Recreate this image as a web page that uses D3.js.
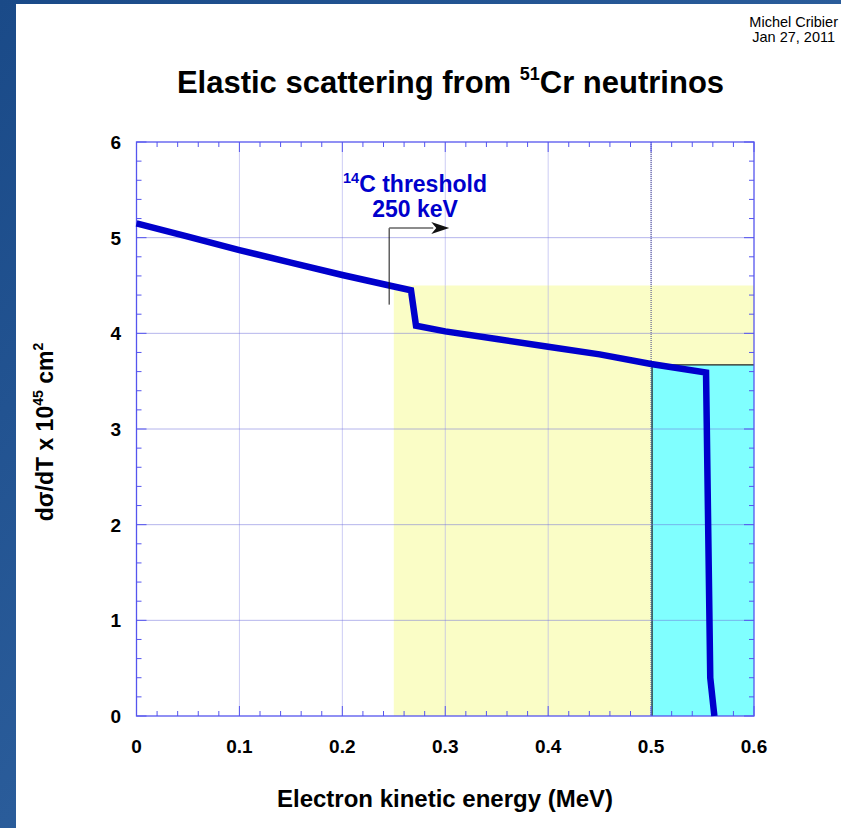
<!DOCTYPE html>
<html>
<head>
<meta charset="utf-8">
<script src="https://cdn.jsdelivr.net/npm/d3@7"></script>
<style>
  body { margin: 0; background: #1d4e8c; }
  text { font-family: "Liberation Sans", Arial, sans-serif; }
</style>
</head>
<body>
<div id="chart"></div>
<script>
// cross section curve (MeV, 10^-45 cm2)
var energy = [0, 0.05, 0.1, 0.15, 0.2, 0.25, 0.2667, 0.2716, 0.3, 0.35, 0.4, 0.45, 0.5, 0.5534, 0.5575, 0.5615];
var sigma = [5.15, 5.01, 4.87, 4.74, 4.61, 4.49, 4.45, 4.08, 4.02, 3.94, 3.86, 3.78, 3.68, 3.59, 0.4, 0];

// shaded regions: [x0, x1, yTop]
var yellowBox = [0.25, 0.6, 4.5];
var cyanBox = [0.5, 0.6, 3.67];

// threshold marker
var thresholdX = 0.2455;
var thresholdY = [4.3, 5.1];
var arrowEnd = 0.3;

var xTicks = [0, 0.1, 0.2, 0.3, 0.4, 0.5, 0.6];
var yTicks = [0, 1, 2, 3, 4, 5, 6];

var width = 841;
var height = 828;

var plotLeft = 136.5;
var plotRight = 754;
var plotTop = 142;
var plotBottom = 716;

var axisColor = '#5555ee';

var svg = d3.select('#chart').append('svg')
    .attr('width', width)
    .attr('height', height);

// slide background
var defs = svg.append('defs');
var grad = defs.append('linearGradient').attr('id', 'bg').attr('x1', 0).attr('y1', 0).attr('x2', 1).attr('y2', 1);
grad.append('stop').attr('offset', '0%').attr('stop-color', '#1a4a88');
grad.append('stop').attr('offset', '50%').attr('stop-color', '#2a5c9a');
grad.append('stop').attr('offset', '100%').attr('stop-color', '#17457f');
svg.append('rect').attr('width', width).attr('height', height).attr('fill', 'url(#bg)');
svg.append('rect')
    .attr('x', 16).attr('y', 4)
    .attr('width', width - 16).attr('height', height - 4)
    .attr('fill', 'white');

var x = d3.scaleLinear().domain([0, 0.6]).range([plotLeft, plotRight]);
var y = d3.scaleLinear().domain([0, 6]).range([plotBottom, plotTop]);

// vertical grid
svg.append('g').selectAll('line')
    .data(xTicks.slice(1, -1))
    .enter().append('line')
    .attr('x1', function (d) { return x(d); })
    .attr('x2', function (d) { return x(d); })
    .attr('y1', plotTop).attr('y2', plotBottom)
    .attr('stroke', '#ccccf4').attr('stroke-width', 1);

// shaded boxes
svg.append('rect')
    .attr('x', x(yellowBox[0])).attr('y', y(yellowBox[2]))
    .attr('width', x(yellowBox[1]) - x(yellowBox[0]))
    .attr('height', y(0) - y(yellowBox[2]))
    .attr('fill', '#fafdc6');

svg.append('rect')
    .attr('x', x(cyanBox[0])).attr('y', y(cyanBox[2]))
    .attr('width', x(cyanBox[1]) - x(cyanBox[0]))
    .attr('height', y(0) - y(cyanBox[2]))
    .attr('fill', '#80ffff');
svg.append('path')
    .attr('d', 'M' + (x(cyanBox[0]) + 1) + ',' + y(0) + 'V' + y(cyanBox[2]) + 'H' + x(cyanBox[1]))
    .attr('fill', 'none').attr('stroke', '#222').attr('stroke-width', 1.2);

// vertical lines over the yellow region
svg.append('g').selectAll('line')
    .data([0.3, 0.4])
    .enter().append('line')
    .attr('x1', function (d) { return x(d); })
    .attr('x2', function (d) { return x(d); })
    .attr('y1', y(yellowBox[2])).attr('y2', plotBottom)
    .attr('stroke', '#ccccdd').attr('stroke-width', 1);
svg.append('line')
    .attr('x1', x(0.5)).attr('x2', x(0.5))
    .attr('y1', plotTop).attr('y2', plotBottom)
    .attr('stroke', '#444488').attr('stroke-width', 1)
    .attr('stroke-dasharray', '1,1');

// horizontal grid
svg.append('g').selectAll('line')
    .data(yTicks.slice(1, -1))
    .enter().append('line')
    .attr('x1', plotLeft).attr('x2', plotRight)
    .attr('y1', function (d) { return y(d); })
    .attr('y2', function (d) { return y(d); })
    .attr('stroke', '#6a6ad8').attr('stroke-width', 1)
    .attr('stroke-dasharray', '1,1');

// frame
svg.append('rect')
    .attr('x', plotLeft).attr('y', plotTop)
    .attr('width', plotRight - plotLeft).attr('height', plotBottom - plotTop)
    .attr('fill', 'none').attr('stroke', axisColor).attr('stroke-width', 1.3);

// ticks on all four sides
var xMinor = d3.range(0, 0.6001, 0.02);
var yMinor = d3.range(0, 6.001, 0.2);

function isMajor(v, step) {
    return Math.abs(v / step - Math.round(v / step)) < 1e-6;
}

var tickGroup = svg.append('g').attr('stroke', axisColor).attr('stroke-width', 1);
xMinor.forEach(function (v) {
    var len = isMajor(v, 0.1) ? 10 : 5;
    tickGroup.append('line').attr('x1', x(v)).attr('x2', x(v)).attr('y1', plotBottom).attr('y2', plotBottom - len);
    tickGroup.append('line').attr('x1', x(v)).attr('x2', x(v)).attr('y1', plotTop).attr('y2', plotTop + len);
});
yMinor.forEach(function (v) {
    var len = isMajor(v, 1) ? 10 : 5;
    tickGroup.append('line').attr('y1', y(v)).attr('y2', y(v)).attr('x1', plotLeft).attr('x2', plotLeft + len);
    tickGroup.append('line').attr('y1', y(v)).attr('y2', y(v)).attr('x1', plotRight).attr('x2', plotRight - len);
});

// tick labels
svg.append('g').selectAll('text')
    .data(xTicks)
    .enter().append('text')
    .attr('x', function (d) { return x(d); })
    .attr('y', plotBottom + 37)
    .attr('text-anchor', 'middle')
    .attr('font-size', 19).attr('font-weight', 'bold')
    .text(function (d) { return d === 0 ? '0' : d3.format('.1f')(d); });

svg.append('g').selectAll('text')
    .data(yTicks)
    .enter().append('text')
    .attr('x', plotLeft - 15.5)
    .attr('y', function (d) { return y(d) + 7; })
    .attr('text-anchor', 'end')
    .attr('font-size', 19).attr('font-weight', 'bold')
    .text(function (d) { return d; });

// curve
var points = energy.map(function (e, i) { return [e, sigma[i]]; });
var line = d3.line()
    .x(function (d) { return x(d[0]); })
    .y(function (d) { return y(d[1]); });
svg.append('path')
    .datum(points)
    .attr('d', line)
    .attr('fill', 'none')
    .attr('stroke', '#0000cc')
    .attr('stroke-width', 6.5)
    .attr('stroke-linejoin', 'miter');

// threshold arrow
svg.append('line')
    .attr('x1', x(thresholdX)).attr('x2', x(thresholdX))
    .attr('y1', y(thresholdY[0])).attr('y2', y(thresholdY[1]))
    .attr('stroke', '#111').attr('stroke-width', 1);
svg.append('line')
    .attr('x1', x(thresholdX)).attr('x2', x(arrowEnd) - 12)
    .attr('y1', y(thresholdY[1])).attr('y2', y(thresholdY[1]))
    .attr('stroke', '#666').attr('stroke-width', 1.5);
var tipX = x(arrowEnd) + 4;
var tipY = y(thresholdY[1]);
svg.append('path')
    .attr('d', 'M' + tipX + ',' + tipY + 'L' + (tipX - 18) + ',' + (tipY - 6) + 'L' + (tipX - 13) + ',' + tipY + 'L' + (tipX - 18) + ',' + (tipY + 6) + 'Z')
    .attr('fill', '#111');

var label = svg.append('text')
    .attr('x', 415).attr('y', 192)
    .attr('text-anchor', 'middle')
    .attr('fill', '#0000cc')
    .attr('font-size', 23).attr('font-weight', 'bold');
label.append('tspan').attr('font-size', 14.5).attr('dy', -9).text('14');
label.append('tspan').attr('dy', 9).text('C threshold');
svg.append('text')
    .attr('x', 415).attr('y', 217)
    .attr('text-anchor', 'middle')
    .attr('fill', '#0000cc')
    .attr('font-size', 23).attr('font-weight', 'bold')
    .text('250 keV');

// title
var title = svg.append('text')
    .attr('x', 450.5).attr('y', 93)
    .attr('text-anchor', 'middle')
    .attr('font-size', 31).attr('font-weight', 'bold');
title.append('tspan').text('Elastic scattering from ');
title.append('tspan').attr('font-size', 18).attr('dy', -13).text('51');
title.append('tspan').attr('dy', 13).text('Cr neutrinos');

// author
svg.append('text').attr('x', 838).attr('y', 27).attr('text-anchor', 'end')
    .attr('font-size', 14.5).text('Michel Cribier');
svg.append('text').attr('x', 835).attr('y', 41.5).attr('text-anchor', 'end')
    .attr('font-size', 14.5).text('Jan 27, 2011');

// axis titles
svg.append('text')
    .attr('x', 445).attr('y', 807)
    .attr('text-anchor', 'middle')
    .attr('font-size', 24).attr('font-weight', 'bold')
    .text('Electron kinetic energy (MeV)');

var yTitle = svg.append('text')
    .attr('transform', 'translate(53,432) rotate(-90)')
    .attr('text-anchor', 'middle')
    .attr('font-size', 23).attr('font-weight', 'bold');
yTitle.append('tspan').text('d\u03c3/dT x 10');
yTitle.append('tspan').attr('font-size', 14).attr('dy', -10).text('45');
yTitle.append('tspan').attr('dy', 10).text(' cm');
yTitle.append('tspan').attr('font-size', 14).attr('dy', -10).text('2');
</script>
</body>
</html>
